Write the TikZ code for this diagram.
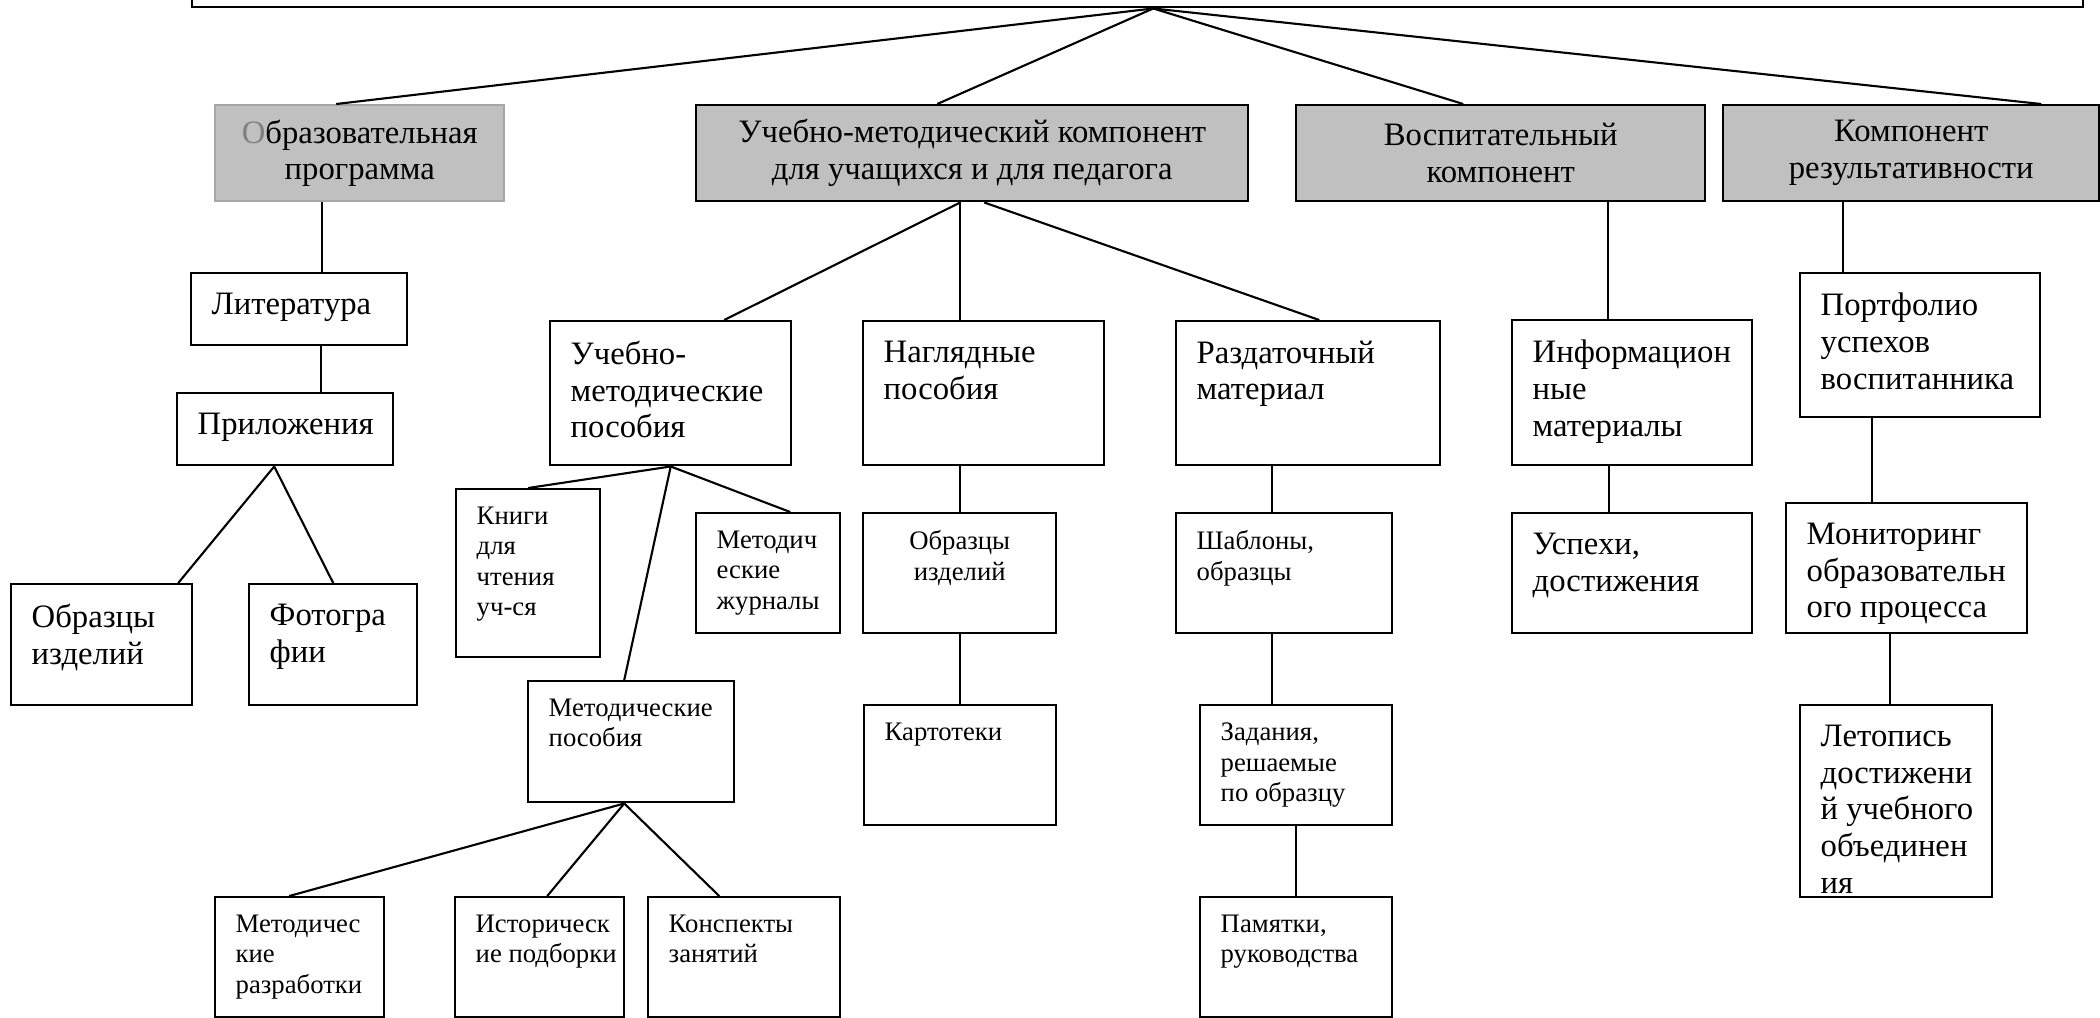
\documentclass[tikz,border=0pt]{standalone}
\usepackage{fontspec}
\setmainfont{Liberation Serif}
\usepackage{xcolor}
\usetikzlibrary{positioning,calc}

\definecolor{headgray}{HTML}{C0C0C0}
\definecolor{edgegray}{HTML}{A6A6A6}
\newcommand\boxfont{\fontsize{9.3}{10.5}\selectfont}
\newcommand\smallboxfont{\fontsize{7.6}{8.7}\selectfont}

\tikzset{
    box/.style={draw, rectangle, line width=0.7pt, anchor=north west, inner sep=0pt},
    head/.style={box, fill=headgray, align=center, font=\boxfont},
    txt/.style={anchor=north west, align=left, inner xsep=2.1mm, inner ysep=2.0mm, font=\boxfont},
    smalltxt/.style={txt, inner ysep=1.8mm, font=\smallboxfont},
    link/.style={line width=0.6pt}
}

\begin{document}
\begin{tikzpicture}[x=0.1mm, y=-0.1mm]

\useasboundingbox (0,0) rectangle (2100,1017);

%======================
% Top box and components
%======================

\node[box, minimum width=189.1mm, minimum height=6.6mm] (root) at (191,-60) {};
\coordinate (apex) at ([xshift=1.55mm]root.south);

\node[head, draw=edgegray, minimum width=28.9mm, minimum height=9.6mm] (b1) at (214,104)
    {{\color{gray}О}бразовательная\\программа};
\node[head, minimum width=55.2mm, minimum height=9.6mm] (b2) at (695,104)
    {Учебно-методический компонент\\для учащихся и для педагога};
\node[head, minimum width=40.9mm, minimum height=9.6mm] (b3) at (1295,104)
    {Воспитательный\\компонент};
\node[head, minimum width=37.6mm, minimum height=9.6mm] (b4) at (1722,104)
    {Компонент\\результативности};

%======================
% Programme branch
%======================

\node[box, minimum width=21.6mm, minimum height=7.2mm,
      label={[txt]north west:{Литература}}] (lit) at (190,272) {};
\node[box, minimum width=21.6mm, minimum height=7.2mm,
      label={[txt]north west:{Приложения}}] (pril) at (176,392) {};
\node[box, minimum width=18.1mm, minimum height=12.1mm,
      label={[txt]north west:{Образцы\\изделий}}] (obr1) at (10,583) {};
\node[box, minimum width=16.8mm, minimum height=12.1mm,
      label={[txt]north west:{Фотогра\\фии}}] (foto) at (248,583) {};

%======================
% Teaching branch
%======================

\node[box, minimum width=24.1mm, minimum height=14.4mm,
      label={[txt]north west:{Учебно-\\методические\\пособия}}] (ump) at (549,320) {};
\node[box, minimum width=14.4mm, minimum height=16.8mm,
      label={[smalltxt]north west:{Книги\\для\\чтения\\уч-ся}}] (knigi) at (455,488) {};
\node[box, minimum width=14.4mm, minimum height=12.0mm,
      label={[smalltxt]north west:{Методич\\еские\\журналы}}] (jurn) at (695,512) {};
\node[box, minimum width=20.6mm, minimum height=12.1mm,
      label={[smalltxt]north west:{Методические\\пособия}}] (metp) at (527,680) {};
\node[box, minimum width=16.9mm, minimum height=12.0mm,
      label={[smalltxt]north west:{Методичес\\кие\\разработки}}] (razr) at (214,896) {};
\node[box, minimum width=16.9mm, minimum height=12.0mm,
      label={[smalltxt]north west:{Историческ\\ие подборки}}] (ist) at (454,896) {};
\node[box, minimum width=19.2mm, minimum height=12.0mm,
      label={[smalltxt]north west:{Конспекты\\занятий}}] (konsp) at (647,896) {};

\node[box, minimum width=24.1mm, minimum height=14.4mm,
      label={[txt]north west:{Наглядные\\пособия}}] (nagl) at (862,320) {};
\node[box, minimum width=19.3mm, minimum height=12.0mm,
      label={[smalltxt, anchor=north, align=center]north:{Образцы\\изделий}}] (obr2) at (862,512) {};
\node[box, minimum width=19.2mm, minimum height=12.0mm,
      label={[smalltxt]north west:{Картотеки}}] (kart) at (863,704) {};

\node[box, minimum width=26.4mm, minimum height=14.4mm,
      label={[txt]north west:{Раздаточный\\материал}}] (razd) at (1175,320) {};
\node[box, minimum width=21.6mm, minimum height=12.0mm,
      label={[smalltxt]north west:{Шаблоны,\\образцы}}] (shabl) at (1175,512) {};
\node[box, minimum width=19.2mm, minimum height=12.0mm,
      label={[smalltxt]north west:{Задания,\\решаемые\\по образцу}}] (zad) at (1199,704) {};
\node[box, minimum width=19.2mm, minimum height=12.0mm,
      label={[smalltxt]north west:{Памятки,\\руководства}}] (pam) at (1199,896) {};

%======================
% Upbringing and results branches
%======================

\node[box, minimum width=24.0mm, minimum height=14.5mm,
      label={[txt]north west:{Информацион\\ные\\материалы}}] (inf) at (1511,319) {};
\node[box, minimum width=24.0mm, minimum height=12.0mm,
      label={[txt]north west:{Успехи,\\достижения}}] (usp) at (1511,512) {};

\node[box, minimum width=24.0mm, minimum height=14.4mm,
      label={[txt]north west:{Портфолио\\успехов\\воспитанника}}] (port) at (1799,272) {};
\node[box, minimum width=24.1mm, minimum height=13.0mm,
      label={[txt]north west:{Мониторинг\\образовательн\\ого процесса}}] (mon) at (1785,502) {};
\node[box, minimum width=19.2mm, minimum height=19.2mm,
      label={[txt]north west:{Летопись\\достижени\\й учебного\\объединен\\ия}}] (let) at (1799,704) {};

%======================
% Connectors
%======================

% From the top box
\draw[link] (apex) -- ([xshift=-2.35mm]b1.north);
\draw[link] (apex) -- ([xshift=-3.5mm]b2.north);
\draw[link] (apex) -- ([xshift=-3.75mm]b3.north);
\draw[link] (apex) -- ([xshift=13mm]b4.north);

% Programme
\draw[link] ([xshift=-3.75mm]b1.south) -- ([xshift=-3.75mm]b1.south |- lit.north);
\draw[link] ([xshift=2.2mm]lit.south) -- ([xshift=2.2mm]lit.south |- pril.north);
\draw[link] ([xshift=-1.1mm]pril.south) -- ([xshift=7.65mm]obr1.north);
\draw[link] ([xshift=-1.1mm]pril.south) -- (foto.north);

% Teaching
\draw[link] ([xshift=-1.2mm]b2.south) -- ([xshift=5.35mm]ump.north);
\draw[link] ([xshift=-1.2mm]b2.south) -- ([xshift=-1.2mm]b2.south |- nagl.north);
\draw[link] ([xshift=1.2mm]b2.south) -- ([xshift=1.1mm]razd.north);

\draw[link] (ump.south) -- (knigi.north);
\draw[link] (ump.south) -- ([xshift=2.2mm]jurn.north);
\draw[link] (ump.south) -- ([xshift=-0.7mm]metp.north);
\draw[link] ([xshift=-0.7mm]metp.south) -- ([xshift=-1.05mm]razr.north);
\draw[link] ([xshift=-0.7mm]metp.south) -- ([xshift=0.75mm]ist.north);
\draw[link] ([xshift=-0.7mm]metp.south) -- ([xshift=-2.5mm]konsp.north);

\draw[link] ([xshift=-2.35mm]nagl.south) -- ([xshift=-2.35mm]nagl.south |- obr2.north);
\draw[link] (obr2.south) -- (obr2.south |- kart.north);

\draw[link] ([xshift=-3.6mm]razd.south) -- ([xshift=-3.6mm]razd.south |- shabl.north);
\draw[link] ([xshift=-1.2mm]shabl.south) -- ([xshift=-1.2mm]shabl.south |- zad.north);
\draw[link] (zad.south) -- (pam.north);

% Upbringing and results
\draw[link] ([xshift=10.75mm]b3.south) -- ([xshift=10.75mm]b3.south |- inf.north);
\draw[link] ([xshift=-2.3mm]inf.south) -- ([xshift=-2.3mm]inf.south |- usp.north);
\draw[link] ([xshift=-6.8mm]b4.south) -- ([xshift=-6.8mm]b4.south |- port.north);
\draw[link] ([xshift=-4.8mm]port.south) -- ([xshift=-4.8mm]port.south |- mon.north);
\draw[link] ([xshift=-1.65mm]mon.south) -- ([xshift=-1.65mm]mon.south |- let.north);

\end{tikzpicture}
\end{document}
